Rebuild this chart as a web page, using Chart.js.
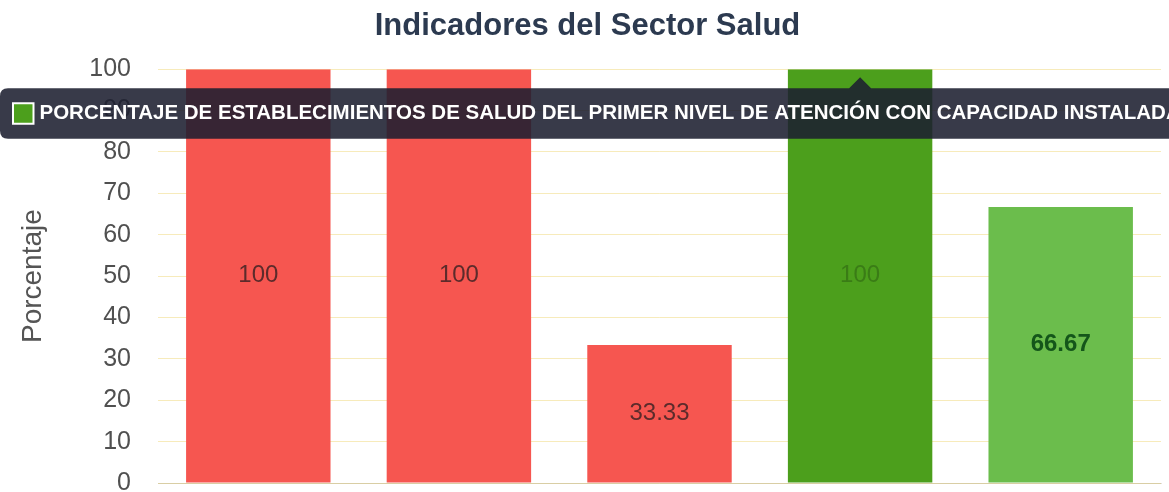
<!DOCTYPE html>
<html>
<head>
<meta charset="utf-8">
<script src="https://cdn.jsdelivr.net/npm/chart.js@4.4.1/dist/chart.umd.min.js"></script>
<style>
  html, body { margin: 0; padding: 0; background: #fff; overflow: hidden; }
  #wrap { width: 1169px; height: 492px; position: relative; }
</style>
</head>
<body>
<div id="wrap"><canvas id="saludChart"></canvas></div>
<script>
// Chart data
const categorias = [
    'Indicador 1',
    'Indicador 2',
    'Indicador 3',
    'PORCENTAJE DE ESTABLECIMIENTOS DE SALUD DEL PRIMER NIVEL DE ATENCIÓN CON CAPACIDAD INSTALADA',
    'Indicador 5'
];
const valores = [100, 100, 33.33, 100, 66.67];
const yTicks = [0, 10, 20, 30, 40, 50, 60, 70, 80, 90, 100];

// Colors per bar
const barColors = ['#f65650', '#f65650', '#f65650', '#4c9f1c', '#6bbd4c'];
const labelColors = ['#5c2b2b', '#5c2b2b', '#5c2b2b', '#3a7c16', '#14561a'];

// Draw values in the middle of each bar
const valueLabels = {
    id: 'valueLabels',
    afterDatasetsDraw(chart) {
        const { ctx } = chart;
        const meta = chart.getDatasetMeta(0);
        ctx.save();
        ctx.textAlign = 'center';
        ctx.textBaseline = 'middle';
        meta.data.forEach((bar, i) => {
            ctx.font = (i === 4 ? 'bold ' : '') + '24px "Liberation Sans", Arial, sans-serif';
            ctx.fillStyle = labelColors[i];
            ctx.fillText(String(valores[i]), bar.x, (bar.y + bar.base) / 2);
        });
        ctx.restore();
    }
};

const ctx = document.getElementById('saludChart').getContext('2d');
const chart = new Chart(ctx, {
    type: 'bar',
    data: {
        labels: categorias,
        datasets: [{
            label: 'Porcentaje',
            data: valores,
            backgroundColor: barColors,
            hoverBackgroundColor: barColors,
            borderWidth: 0
        }]
    },
    options: {
        responsive: true,
        maintainAspectRatio: false,
        animation: false,
        layout: { padding: { left: 14, right: 8, top: 0, bottom: 1 } },
        plugins: {
            legend: { display: false },
            title: {
                display: true,
                text: 'Indicadores del Sector Salud',
                color: '#2c3a50',
                font: { family: '"Liberation Sans", Arial, sans-serif', size: 31, weight: 'bold' },
                padding: { top: 8, bottom: 24 }
            },
            tooltip: {
                enabled: true,
                yAlign: 'top',
                xAlign: 'center',
                backgroundColor: 'rgba(28, 31, 48, 0.88)',
                bodyColor: '#ffffff',
                bodyFont: { family: '"Liberation Sans", Arial, sans-serif', size: 20.5, weight: 'bold' },
                padding: 13,
                cornerRadius: 8,
                caretSize: 11,
                caretPadding: 8,
                boxPadding: 4,
                displayColors: true,
                callbacks: {
                    title: () => '',
                    label: (c) => c.label,
                    labelColor: (c) => ({
                        borderColor: '#ffffff',
                        backgroundColor: barColors[c.dataIndex],
                        borderWidth: 2
                    })
                }
            }
        },
        scales: {
            x: {
                ticks: { display: false },
                grid: { display: false },
                border: { display: true, color: 'rgba(0,0,0,0.12)' }
            },
            y: {
                min: 0,
                max: 100,
                z: 1,
                afterBuildTicks: (scale) => {
                    scale.ticks = yTicks.map(v => ({ value: v }));
                },
                afterFit: (scale) => {
                    scale.width = 144;
                    scale.paddingTop = 0;
                    scale.paddingBottom = 0;
                },
                ticks: {
                    color: '#505050',
                    padding: 27,
                    font: { family: '"Liberation Sans", Arial, sans-serif', size: 25 }
                },
                grid: {
                    color: 'rgba(240, 215, 120, 0.5)',
                    drawTicks: false
                },
                border: { display: false },
                title: {
                    display: true,
                    text: 'Porcentaje',
                    color: '#555',
                    padding: { top: 2, bottom: 0 },
                    font: { family: '"Liberation Sans", Arial, sans-serif', size: 28 }
                }
            }
        }
    },
    plugins: [valueLabels]
});

// Show the tooltip on the fourth bar
chart.tooltip.setActiveElements([{ datasetIndex: 0, index: 3 }], { x: 0, y: 0 });
chart.update();
</script>
</body>
</html>
